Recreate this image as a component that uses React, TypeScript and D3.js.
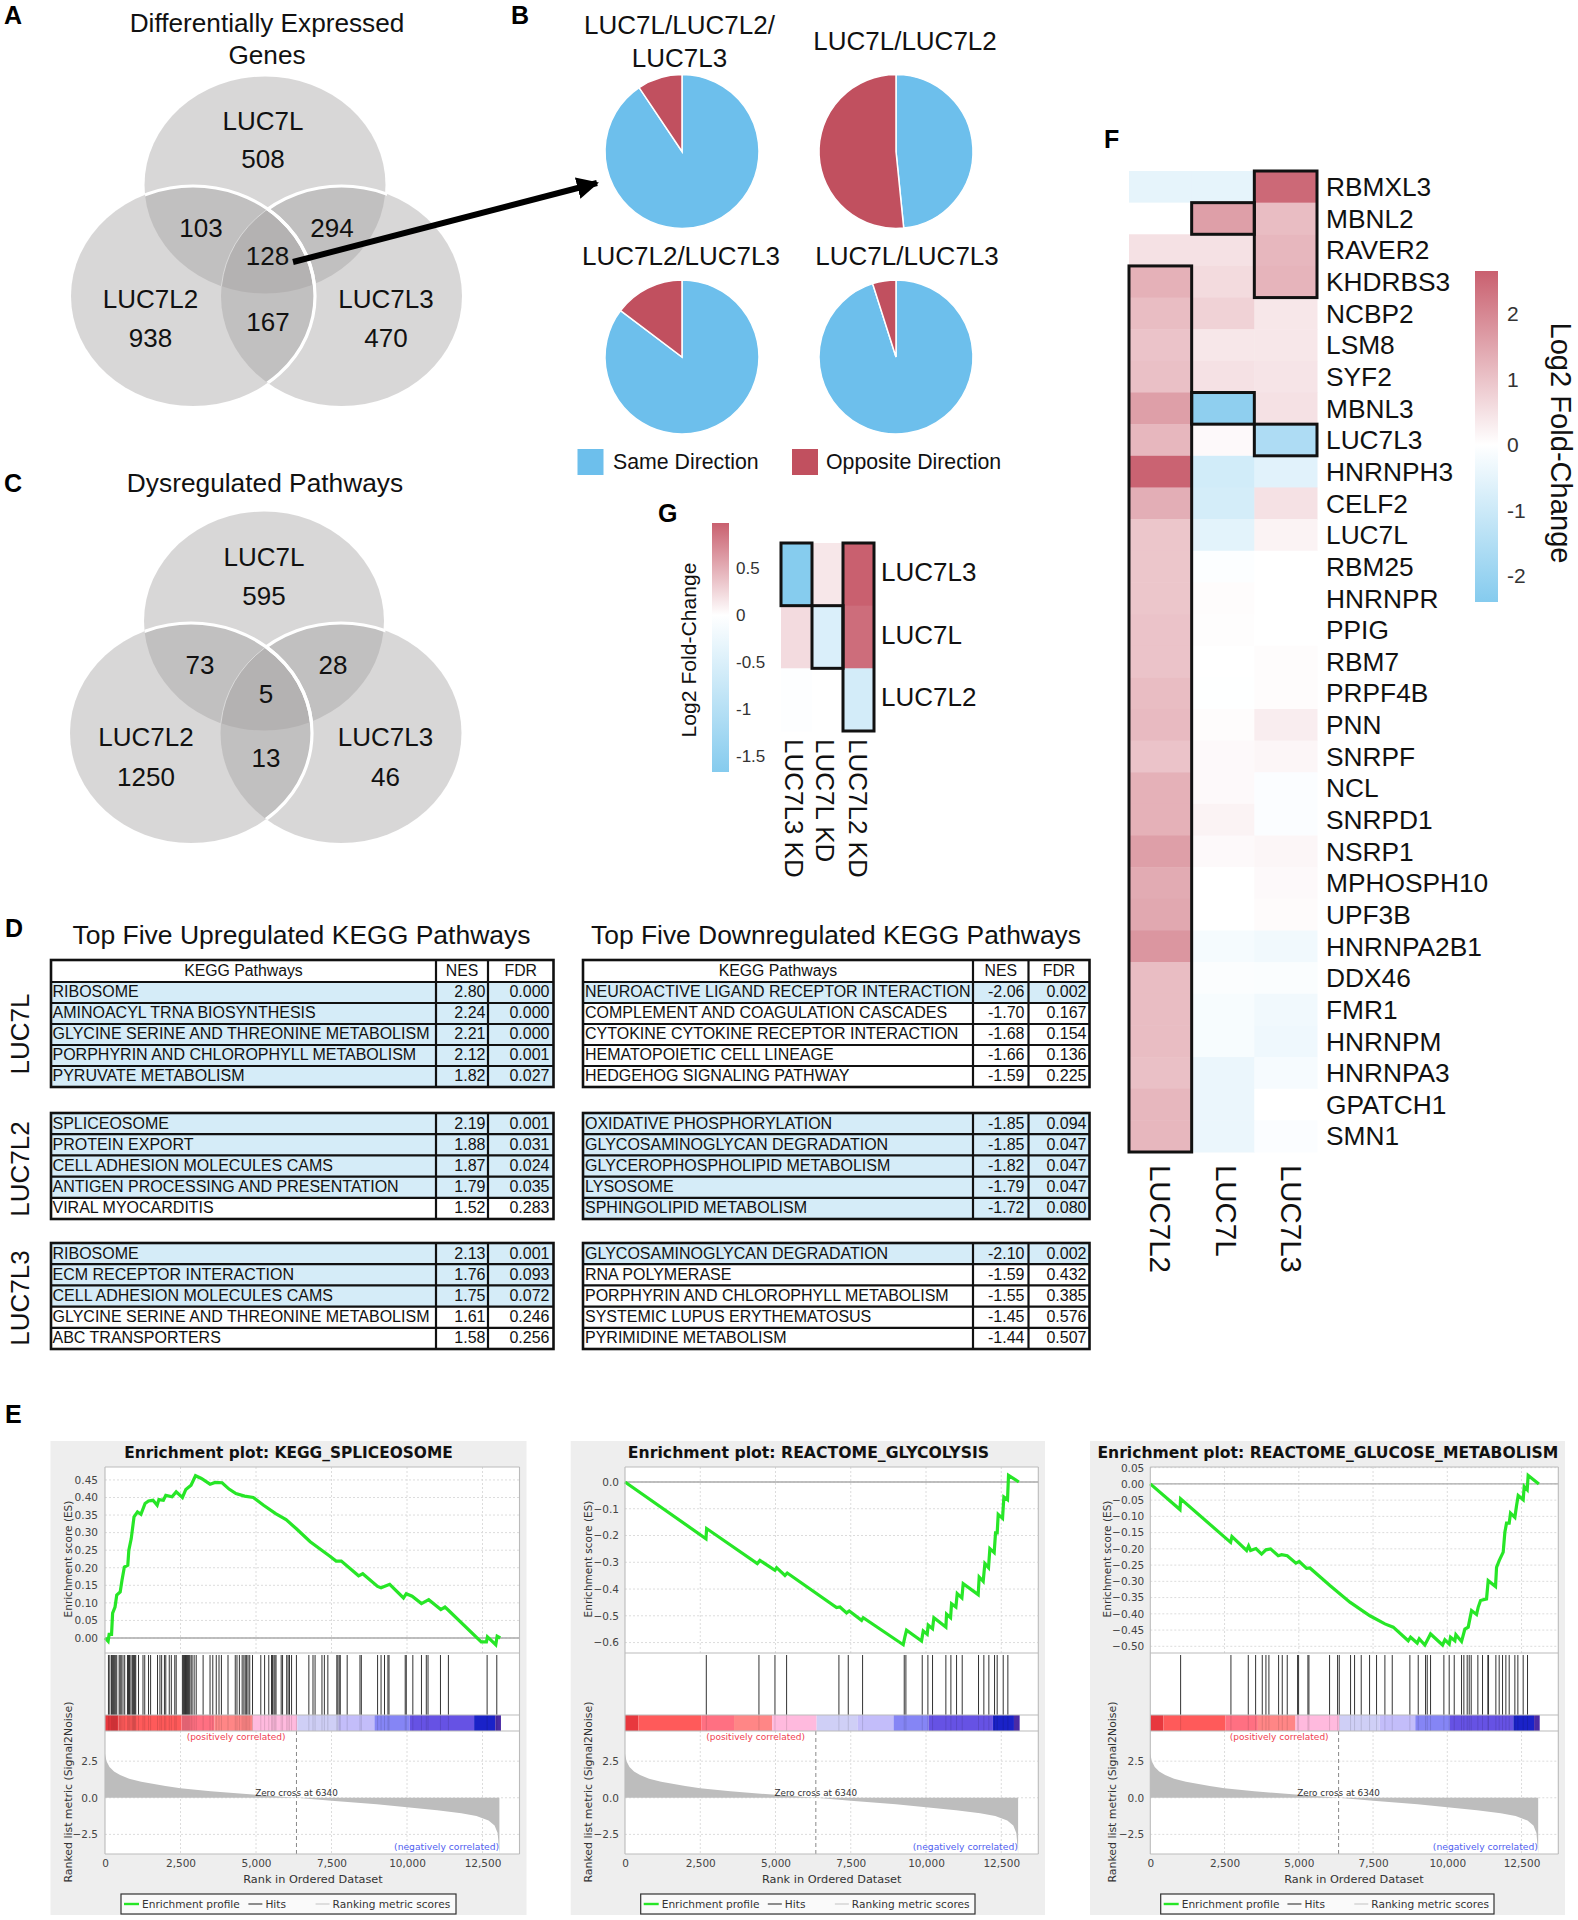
import { useEffect, useRef } from "react";
import * as d3 from "d3";

type Sel = d3.Selection<any, unknown, null, undefined>;

const SANS = "'Liberation Sans', Arial, sans-serif";
const JAVA = "'DejaVu Sans', sans-serif";
const BLUE = "#6dbfec";
const RED = "#c1505f";

// ---- venn counts
const vennANames = ["LUC7L", "LUC7L2", "LUC7L3"];
const vennACounts = ["508", "938", "470", "103", "294", "167", "128"];
const vennCCounts = ["595", "1250", "46", "73", "28", "13", "5"];

// ---- pies: [same, opposite] in percent
const pieTitles = [["LUC7L/LUC7L2/", "LUC7L3"], ["LUC7L/LUC7L2"], ["LUC7L2/LUC7L3"], ["LUC7L/LUC7L3"]];
const pieSame = [90.6, 48.4, 85.3, 95.1];
const pieOpposite = [9.4, 51.6, 14.7, 4.9];

// ---- KEGG tables
const upNames = [
  ["RIBOSOME", "AMINOACYL TRNA BIOSYNTHESIS", "GLYCINE SERINE AND THREONINE METABOLISM", "PORPHYRIN AND CHLOROPHYLL METABOLISM", "PYRUVATE METABOLISM"],
  ["SPLICEOSOME", "PROTEIN EXPORT", "CELL ADHESION MOLECULES CAMS", "ANTIGEN PROCESSING AND PRESENTATION", "VIRAL MYOCARDITIS"],
  ["RIBOSOME", "ECM RECEPTOR INTERACTION", "CELL ADHESION MOLECULES CAMS", "GLYCINE SERINE AND THREONINE METABOLISM", "ABC TRANSPORTERS"],
];
const upNes = [[2.8, 2.24, 2.21, 2.12, 1.82], [2.19, 1.88, 1.87, 1.79, 1.52], [2.13, 1.76, 1.75, 1.61, 1.58]];
const upFdr = [[0, 0, 0, 0.001, 0.027], [0.001, 0.031, 0.024, 0.035, 0.283], [0.001, 0.093, 0.072, 0.246, 0.256]];
const downNames = [
  ["NEUROACTIVE LIGAND RECEPTOR INTERACTION", "COMPLEMENT AND COAGULATION CASCADES", "CYTOKINE CYTOKINE RECEPTOR INTERACTION", "HEMATOPOIETIC CELL LINEAGE", "HEDGEHOG SIGNALING PATHWAY"],
  ["OXIDATIVE PHOSPHORYLATION", "GLYCOSAMINOGLYCAN DEGRADATION", "GLYCEROPHOSPHOLIPID METABOLISM", "LYSOSOME", "SPHINGOLIPID METABOLISM"],
  ["GLYCOSAMINOGLYCAN DEGRADATION", "RNA POLYMERASE", "PORPHYRIN AND CHLOROPHYLL METABOLISM", "SYSTEMIC LUPUS ERYTHEMATOSUS", "PYRIMIDINE METABOLISM"],
];
const downNes = [[-2.06, -1.7, -1.68, -1.66, -1.59], [-1.85, -1.85, -1.82, -1.79, -1.72], [-2.1, -1.59, -1.55, -1.45, -1.44]];
const downFdr = [[0.002, 0.167, 0.154, 0.136, 0.225], [0.094, 0.047, 0.047, 0.047, 0.08], [0.002, 0.432, 0.385, 0.576, 0.507]];
const tableGroups = ["LUC7L", "LUC7L2", "LUC7L3"];

// ---- heatmap F
const genes = ["RBMXL3", "MBNL2", "RAVER2", "KHDRBS3", "NCBP2", "LSM8", "SYF2", "MBNL3", "LUC7L3", "HNRNPH3", "CELF2", "LUC7L", "RBM25", "HNRNPR", "PPIG", "RBM7", "PRPF4B", "PNN", "SNRPF", "NCL", "SNRPD1", "NSRP1", "MPHOSPH10", "UPF3B", "HNRNPA2B1", "DDX46", "FMR1", "HNRNPM", "HNRNPA3", "GPATCH1", "SMN1"];
const fCols = ["LUC7L2", "LUC7L", "LUC7L3"];
const fL2 = [-0.5, 0, 0.5, 1.3, 1.1, 1, 1.05, 1.6, 1.2, 2.6, 1.35, 0.95, 0.95, 0.95, 1, 1, 1.1, 1.15, 1, 1.3, 1.3, 1.6, 1.4, 1.45, 1.75, 1.1, 1.1, 1.1, 1.05, 1.2, 1.2];
const fL = [-0.5, 1.6, 0.5, 0.6, 0.75, 0.4, 0.5, -2.2, 0.1, -0.9, -0.85, -0.55, -0.05, 0.05, 0.03, 0, -0.02, 0.05, 0.1, 0.1, 0.2, 0.1, 0, 0, -0.2, -0.08, -0.15, -0.15, -0.4, -0.4, -0.4];
const fL3 = [2.5, 1.1, 1.2, 1.25, 0.4, 0.4, 0.45, 0.5, -1.6, -0.6, 0.5, 0.2, 0, 0, 0, 0.05, 0.05, 0.3, 0.15, -0.07, -0.07, 0.15, 0.1, 0.07, -0.28, -0.1, -0.28, -0.32, -0.17, 0, -0.07];
// [column, first row, last row]
const fBoxes = [[2, 0, 3], [1, 1, 1], [0, 3, 30], [1, 7, 7], [2, 8, 8]];
const fTicks = [2, 1, 0, -1, -2];

// ---- heatmap G
const gRows = ["LUC7L3", "LUC7L", "LUC7L2"];
const gCols = ["LUC7L3 KD", "LUC7L KD", "LUC7L2 KD"];
const gL3 = [-1.65, 0.15, 0.98];
const gL = [0.22, -0.5, 0.9];
const gL2 = [-0.03, 0, -0.6];
const gBoxes = [[0, 0, 0], [1, 1, 1], [2, 0, 2]];
const gTicks = [0.5, 0, -0.5, -1, -1.5];

// ---- GSEA
const rankTicks = [0, 2500, 5000, 7500, 10000, 12500];
const metricRank = [0, 50, 150, 300, 500, 800, 1200, 2000, 2500, 3500, 5000, 6340, 7500, 9000, 10000, 11000, 11800, 12300, 12700, 12900, 13000, 13040, 13060];
const metricValue = [3, 2.5, 2.1, 1.8, 1.55, 1.3, 1.1, 0.8, 0.65, 0.45, 0.2, 0, -0.2, -0.45, -0.65, -0.85, -1.05, -1.25, -1.55, -1.9, -2.4, -3.3, -3.8];
const bandEdges = [0, 444, 2533, 3622, 4889, 6367, 7722, 8922, 10089, 12222, 12922, 13111];
const bandColors = ["#e8383e", "#ff5a5a", "#ff7082", "#ff8686", "#ffbade", "#cfcff6", "#c3bdfa", "#8585f5", "#6652e4", "#1a22c8", "#4a2aa5"];

const es1Rank = [0, 103, 137, 217, 252, 332, 389, 503, 561, 641, 755, 789, 869, 961, 1075, 1190, 1327, 1441, 1590, 1727, 1785, 1933, 2013, 2219, 2357, 2563, 2677, 2849, 2997, 3192, 3478, 3649, 3878, 4107, 4336, 4622, 4908, 5251, 5651, 5995, 6338, 6795, 7425, 7653, 7825, 8397, 8534, 9026, 9141, 9427, 9884, 9976, 10170, 10479, 10719, 11120, 11257, 11371, 12458, 12630, 12664, 12939, 12985, 13088];
const es1Score = [0, -0.0095, 0.0104, 0.0104, 0.071, 0.088, 0.122, 0.131, 0.164, 0.202, 0.207, 0.25, 0.283, 0.345, 0.359, 0.352, 0.383, 0.39, 0.392, 0.378, 0.394, 0.392, 0.406, 0.402, 0.416, 0.4, 0.423, 0.435, 0.462, 0.454, 0.438, 0.443, 0.442, 0.424, 0.411, 0.404, 0.4, 0.378, 0.354, 0.337, 0.311, 0.274, 0.234, 0.219, 0.219, 0.177, 0.183, 0.147, 0.143, 0.153, 0.114, 0.126, 0.119, 0.098, 0.109, 0.081, 0.088, 0.079, -0.011, -0.011, 0.003, -0.019, 0.005, 0];
const hits1 = [114, 160, 217, 252, 286, 320, 355, 389, 469, 503, 538, 595, 652, 744, 778, 812, 858, 904, 927, 950, 972, 995, 1018, 1110, 1258, 1316, 1441, 1510, 1739, 1819, 1876, 1968, 2013, 2128, 2196, 2311, 2357, 2563, 2597, 2631, 2666, 2700, 2734, 2768, 2803, 2849, 2883, 2952, 3020, 3249, 3478, 3569, 3684, 3775, 3855, 4073, 4313, 4370, 4450, 4542, 4599, 4645, 4690, 4736, 4793, 4885, 5159, 5285, 5423, 5514, 5548, 5594, 5628, 5663, 5834, 5880, 6017, 6063, 6109, 6178, 6338, 6750, 6887, 6956, 7184, 7264, 7379, 7676, 7711, 7756, 7791, 8019, 8443, 8488, 9026, 9141, 9255, 9369, 9404, 9941, 9976, 10193, 10479, 10639, 10696, 11108, 11371, 12653, 12973];
const es1Ticks = [0.45, 0.4, 0.35, 0.3, 0.25, 0.2, 0.15, 0.1, 0.05, 0];

const es2Rank = [0, 2690, 2712, 4395, 4483, 4982, 5037, 5314, 5391, 7029, 7140, 7362, 7450, 7860, 7915, 9243, 9299, 9354, 9852, 9908, 10040, 10074, 10217, 10262, 10660, 10683, 10816, 10849, 10993, 11037, 11192, 11236, 11734, 11767, 11900, 11956, 12077, 12122, 12265, 12310, 12365, 12399, 12543, 12587, 12708, 12742, 13085];
const es2Score = [0, -0.212, -0.174, -0.305, -0.293, -0.33, -0.32, -0.349, -0.34, -0.469, -0.467, -0.489, -0.482, -0.517, -0.507, -0.608, -0.579, -0.554, -0.594, -0.557, -0.569, -0.535, -0.548, -0.507, -0.542, -0.494, -0.507, -0.455, -0.467, -0.417, -0.433, -0.38, -0.421, -0.355, -0.371, -0.305, -0.32, -0.249, -0.264, -0.19, -0.19, -0.121, -0.136, -0.056, -0.066, 0.025, 0];
const hits2 = [2701, 4450, 4982, 5369, 7107, 7417, 7893, 9277, 9332, 9875, 10063, 10217, 10660, 10827, 11015, 11203, 11745, 11922, 12088, 12277, 12365, 12565, 12720];
const es2Ticks = [0, -0.1, -0.2, -0.3, -0.4, -0.5, -0.6];

const es3Rank = [0, 999, 1021, 2704, 2749, 3243, 3310, 3377, 3557, 3747, 3893, 4050, 4308, 4421, 4611, 4903, 5015, 5262, 5374, 6048, 6721, 7394, 7899, 8179, 8684, 8763, 8987, 9055, 9245, 9436, 9840, 9919, 10065, 10109, 10255, 10289, 10480, 10592, 10704, 10816, 10984, 11040, 11119, 11321, 11377, 11624, 11658, 11747, 11882, 11938, 11994, 12084, 12129, 12275, 12331, 12387, 12555, 12589, 12690, 12723, 13083];
const es3Score = [0, -0.079, -0.046, -0.18, -0.162, -0.205, -0.191, -0.205, -0.199, -0.216, -0.203, -0.2, -0.221, -0.218, -0.221, -0.244, -0.239, -0.26, -0.259, -0.313, -0.364, -0.406, -0.431, -0.441, -0.483, -0.472, -0.49, -0.477, -0.496, -0.462, -0.496, -0.48, -0.493, -0.472, -0.483, -0.464, -0.485, -0.447, -0.441, -0.39, -0.402, -0.38, -0.359, -0.354, -0.298, -0.316, -0.257, -0.236, -0.21, -0.149, -0.121, -0.121, -0.09, -0.103, -0.067, -0.036, -0.049, -0.008, -0.018, 0.026, 0];
const hits3 = [1021, 2715, 3299, 3546, 3770, 3893, 3994, 4320, 4443, 4611, 4959, 4993, 5307, 5341, 6036, 6306, 6362, 6743, 6878, 7102, 7383, 7618, 7899, 8146, 8740, 9021, 9268, 9324, 9436, 9885, 10064, 10233, 10479, 10558, 10670, 10738, 10805, 11029, 11186, 11366, 11388, 11635, 11747, 11860, 11972, 12084, 12275, 12376, 12555, 12701];
const es3Ticks = [0.05, 0, -0.05, -0.1, -0.15, -0.2, -0.25, -0.3, -0.35, -0.4, -0.45, -0.5];

function txt(g: Sel, x: number, y: number, s: string, size: number, opt: any = {}) {
  const t = g.append("text")
    .attr("x", x).attr("y", y)
    .attr("font-family", opt.font || SANS)
    .attr("font-size", size)
    .attr("font-weight", opt.weight || "normal")
    .attr("text-anchor", opt.anchor || "start")
    .attr("fill", opt.fill || "#111")
    .text(s);
  if (opt.rotate) t.attr("transform", `rotate(${opt.rotate},${x},${y})`);
  return t;
}

let clipId = 0;

function drawVenn(svg: Sel, cx: number[], cy: number[], rx: number[], ry: number[], names: string[], counts: string[], pos: number[][]) {
  const ids = [0, 1, 2].map(() => `venn${clipId++}`);
  const defs = svg.append("defs");
  [0, 1, 2].forEach((i) => {
    defs.append("clipPath").attr("id", ids[i])
      .append("ellipse").attr("cx", cx[i]).attr("cy", cy[i]).attr("rx", rx[i]).attr("ry", ry[i]);
  });
  const maskId = `vennmask${clipId++}`;
  const mask = defs.append("mask").attr("id", maskId);
  mask.append("ellipse").attr("cx", cx[0]).attr("cy", cy[0]).attr("rx", rx[0] + 2).attr("ry", ry[0] + 2).attr("fill", "#fff");
  mask.append("ellipse").attr("cx", cx[1]).attr("cy", cy[1]).attr("rx", rx[1]).attr("ry", ry[1]).attr("fill", "#000");

  [0, 1, 2].forEach((i) => {
    svg.append("ellipse").attr("cx", cx[i]).attr("cy", cy[i]).attr("rx", rx[i]).attr("ry", ry[i])
      .attr("fill", "#a2a09f").attr("fill-opacity", 0.42);
  });
  // white outlines only show where the circles overlap
  const ring = (g: Sel, i: number, w: number) =>
    g.append("ellipse").attr("cx", cx[i]).attr("cy", cy[i]).attr("rx", rx[i]).attr("ry", ry[i])
      .attr("fill", "none").attr("stroke", "#fff").attr("stroke-width", w);
  ring(svg.append("g").attr("clip-path", `url(#${ids[0]})`), 1, 3.2);
  ring(svg.append("g").attr("clip-path", `url(#${ids[2]})`), 1, 3.2);
  ring(svg.append("g").attr("mask", `url(#${maskId})`), 2, 3.2);
  ring(svg.append("g").attr("clip-path", `url(#${ids[1]})`).append("g").attr("clip-path", `url(#${ids[0]})`), 2, 1).attr("stroke-opacity", 0.45);

  const labels = [names[0], counts[0], names[1], counts[1], names[2], counts[2], counts[3], counts[4], counts[5], counts[6]];
  labels.forEach((s, i) => txt(svg, pos[i][0], pos[i][1], s, 26, { anchor: "middle" }));
}

function drawPies(svg: Sel) {
  const cxs = [682, 896, 682, 896];
  const cys = [151.5, 151.5, 357, 357];
  const pie = d3.pie<number>().sort(null).value((d) => d);
  const arc = d3.arc<d3.PieArcDatum<number>>().innerRadius(0).outerRadius(77);
  pieSame.forEach((same, i) => {
    const g = svg.append("g").attr("transform", `translate(${cxs[i]},${cys[i]})`);
    g.selectAll("path")
      .data(pie([same, pieOpposite[i]]))
      .join("path")
      .attr("d", arc)
      .attr("fill", (_, j) => (j === 0 ? BLUE : RED))
      .attr("stroke", "#fff").attr("stroke-width", 1.5);
  });
  const titleY = [[34, 67], [50], [265], [265]];
  const titleX = [679.5, 905, 681, 907];
  pieTitles.forEach((lines, i) => {
    lines.forEach((s, j) => txt(svg, titleX[i], titleY[i][j], s, 26, { anchor: "middle" }));
  });
  svg.append("rect").attr("x", 577.5).attr("y", 449).attr("width", 26).attr("height", 26).attr("fill", BLUE);
  txt(svg, 613, 469, "Same Direction", 21.3);
  svg.append("rect").attr("x", 792).attr("y", 449).attr("width", 26).attr("height", 26).attr("fill", RED);
  txt(svg, 826, 469, "Opposite Direction", 21.3);

  // arrow from the triple overlap to the first pie
  const defs = svg.append("defs");
  defs.append("marker").attr("id", "arrowHead").attr("markerUnits", "userSpaceOnUse")
    .attr("markerWidth", 24).attr("markerHeight", 24).attr("refX", 20).attr("refY", 12)
    .attr("orient", "auto")
    .append("path").attr("d", "M0,1 L22,12 L0,23 Z").attr("fill", "#000");
  svg.append("line").attr("x1", 293).attr("y1", 262).attr("x2", 597).attr("y2", 183)
    .attr("stroke", "#000").attr("stroke-width", 6).attr("marker-end", "url(#arrowHead)");
}

function drawTable(svg: Sel, xs: number[], y0: number, y1: number, textX: number[], names: string[], nes: number[], fdr: number[], header: boolean) {
  const HEAD_H = 22;
  const bodyTop = header ? y0 + HEAD_H : y0;
  const y = d3.scaleBand<number>().domain(d3.range(names.length)).range([bodyTop, y1]);
  const g = svg.append("g");
  g.selectAll("rect.row").data(names).join("rect").attr("class", "row")
    .attr("x", xs[0]).attr("y", (_, i) => y(i)!)
    .attr("width", xs[3] - xs[0]).attr("height", y.bandwidth())
    .attr("fill", (_, i) => (fdr[i] < 0.1 ? "#d5ecf8" : "#fff"));
  const FS = 16;
  names.forEach((n, i) => {
    const b = y(i)! + y.bandwidth() / 2 + FS * 0.31;
    txt(g, textX[0], b, n, FS);
    txt(g, textX[1], b, nes[i].toFixed(2), FS, { anchor: "end" });
    txt(g, textX[2], b, fdr[i].toFixed(3), FS, { anchor: "end" });
  });
  if (header) {
    const b = y0 + HEAD_H / 2 + 5;
    txt(g, (xs[0] + xs[1]) / 2, b, "KEGG Pathways", 15.8, { anchor: "middle" });
    txt(g, (xs[1] + xs[2]) / 2, b, "NES", 15.8, { anchor: "middle" });
    txt(g, (xs[2] + xs[3]) / 2, b, "FDR", 15.8, { anchor: "middle" });
  }
  const rules = header ? [bodyTop, ...d3.range(1, names.length).map((i) => y(i)!)] : d3.range(1, names.length).map((i) => y(i)!);
  g.selectAll("line.h").data(rules).join("line").attr("class", "h")
    .attr("x1", xs[0]).attr("x2", xs[3]).attr("y1", (d) => d).attr("y2", (d) => d)
    .attr("stroke", "#111").attr("stroke-width", 2.2);
  g.selectAll("line.v").data([xs[1], xs[2]]).join("line").attr("class", "v")
    .attr("x1", (d) => d).attr("x2", (d) => d).attr("y1", y0).attr("y2", y1)
    .attr("stroke", "#111").attr("stroke-width", 2.2);
  g.append("rect").attr("x", xs[0]).attr("y", y0).attr("width", xs[3] - xs[0]).attr("height", y1 - y0)
    .attr("fill", "none").attr("stroke", "#111").attr("stroke-width", 2.6);
}

function drawTables(svg: Sel) {
  const tops = [960, 1113, 1243];
  const bottoms = [1087, 1219, 1349];
  tableGroups.forEach((name, i) => {
    drawTable(svg, [51, 436, 488, 553.5], tops[i], bottoms[i], [52.5, 485.5, 549.5], upNames[i], upNes[i], upFdr[i], i === 0);
    drawTable(svg, [583, 973, 1028.5, 1089.5], tops[i], bottoms[i], [585, 1024.5, 1086.5], downNames[i], downNes[i], downFdr[i], i === 0);
    txt(svg, 28.5, [1034, 1169, 1298][i], name, 26, { anchor: "middle", rotate: -90 });
  });
  txt(svg, 301.5, 944, "Top Five Upregulated KEGG Pathways", 26.5, { anchor: "middle" });
  txt(svg, 836, 944, "Top Five Downregulated KEGG Pathways", 26.4, { anchor: "middle" });
}

function colorBar(svg: Sel, id: string, color: d3.ScaleLinear<string, string>, x: number, w: number, yScale: d3.ScaleLinear<number, number>, ticks: number[], tickX: number, size: number) {
  const [top, bottom] = yScale.domain();
  const zero = (top - 0) / (top - bottom);
  const grad = svg.append("defs").append("linearGradient").attr("id", id).attr("x1", 0).attr("x2", 0).attr("y1", 0).attr("y2", 1);
  [[0, top], [zero, 0], [1, bottom]].forEach(([o, v]) => grad.append("stop").attr("offset", o).attr("stop-color", color(v)));
  svg.append("rect").attr("x", x).attr("y", yScale(top)).attr("width", w).attr("height", yScale(bottom) - yScale(top)).attr("fill", `url(#${id})`);
  ticks.forEach((t) => txt(svg, tickX, yScale(t) + size * 0.36, String(t), size, { fill: "#333" }));
}

function heatCells(svg: Sel, x: d3.ScaleBand<number>, y: d3.ScaleBand<number>, rows: number[][], color: (v: number) => string, boxes: number[][]) {
  rows.forEach((vals, r) => {
    svg.append("g").selectAll("rect").data(vals).join("rect")
      .attr("x", (_, c) => x(c)!).attr("y", y(r)!)
      .attr("width", x.bandwidth() + 0.5).attr("height", y.bandwidth() + 0.5)
      .attr("fill", (d) => color(d));
  });
  boxes.forEach(([c, a, b]) => {
    svg.append("rect")
      .attr("x", x(c)!).attr("y", y(a)!)
      .attr("width", x.bandwidth()).attr("height", y(b)! + y.bandwidth() - y(a)!)
      .attr("fill", "none").attr("stroke", "#111").attr("stroke-width", 3);
  });
}

function drawHeatF(svg: Sel) {
  const x = d3.scaleBand<number>().domain(d3.range(fCols.length)).range([1129, 1317]);
  const y = d3.scaleBand<number>().domain(d3.range(genes.length)).range([171, 1152]);
  const color = d3.scaleLinear<string>().domain([-2.4, 0, 2.65]).range(["#85cbee", "#ffffff", "#c9606f"]);
  const rows = genes.map((_, i) => [fL2[i], fL[i], fL3[i]]);
  heatCells(svg, x, y, rows, color, fBoxes);
  genes.forEach((g, i) => txt(svg, 1326, y(i)! + y.bandwidth() / 2 + 9.3, g, 26.3));
  const labelX = [1149.5, 1216, 1281];
  fCols.forEach((c, i) => txt(svg, labelX[i], 1165, c, 29.4, { rotate: 90 }));
  const barY = d3.scaleLinear().domain([2.65, -2.4]).range([271, 602]);
  colorBar(svg, "barF", color, 1475, 23, barY, fTicks, 1507, 21);
  txt(svg, 1551, 443, "Log2 Fold-Change", 29.1, { anchor: "middle", rotate: 90 });
}

function drawHeatG(svg: Sel) {
  const x = d3.scaleBand<number>().domain(d3.range(gCols.length)).range([781, 874]);
  const y = d3.scaleBand<number>().domain(d3.range(gRows.length)).range([543, 731]);
  const color = d3.scaleLinear<string>().domain([-1.67, 0, 0.98]).range(["#85cbee", "#ffffff", "#c9606f"]);
  heatCells(svg, x, y, [gL3, gL, gL2], color, gBoxes);
  gRows.forEach((g, i) => txt(svg, 881, y(i)! + y.bandwidth() / 2 + 6.5, g, 26));
  const labelX = [785, 816, 849];
  gCols.forEach((c, i) => txt(svg, labelX[i], 739, c, 26, { rotate: 90 }));
  const barY = d3.scaleLinear().domain([0.98, -1.67]).range([523, 772]);
  colorBar(svg, "barG", color, 712, 17, barY, gTicks, 736, 17);
  txt(svg, 696, 650, "Log2 Fold-Change", 21.1, { anchor: "middle", rotate: -90 });
}

interface GseaLayout {
  bg: number[]; plot: number[]; pxPerRank: number; esTop: number; esBottom: number;
  title: number[]; esLabelX: number; rankLabelX: number; axisLabelX: number; pad: number;
  legend: number[]; fmt: string;
}

function drawGsea(svg: Sel, name: string, rank: number[], score: number[], hits: number[], esTicks: number[], L: GseaLayout) {
  const g = svg.append("g").attr("font-family", JAVA);
  const [x0, x1] = L.plot;
  const [Y0, Y1, Y2, Y3, Y4] = [1467, 1653, 1715, 1731, 1854];
  g.append("rect").attr("x", L.bg[0]).attr("y", 1441).attr("width", L.bg[1] - L.bg[0]).attr("height", 474).attr("fill", "#eeeeee");
  g.append("rect").attr("x", x0).attr("y", Y0).attr("width", x1 - x0).attr("height", Y4 - Y0).attr("fill", "#fff");

  const x = d3.scaleLinear().domain([0, (x1 - x0) / L.pxPerRank]).range([x0, x1]);
  const es = d3.scaleLinear().domain([L.esTop, L.esBottom]).range([Y0, Y1]);
  const metric = d3.scaleLinear().domain([4.56, -3.84]).range([Y3, Y4]);
  const grid = (x1a: number, x2a: number, y1a: number, y2a: number) =>
    g.append("line").attr("x1", x1a).attr("x2", x2a).attr("y1", y1a).attr("y2", y2a)
      .attr("stroke", "#dcdcdc").attr("stroke-dasharray", "2,2");

  rankTicks.slice(1).forEach((t) => { grid(x(t), x(t), Y0, Y1); grid(x(t), x(t), Y3, Y4); });
  esTicks.forEach((t) => grid(x0, x1, es(t), es(t)));
  [2.5, 0, -2.5].forEach((t) => grid(x0, x1, metric(t), metric(t)));

  // zero line + running enrichment score
  g.append("line").attr("x1", x0).attr("x2", x1).attr("y1", es(0)).attr("y2", es(0)).attr("stroke", "#aaa").attr("stroke-width", 1.4);
  const line = d3.line<number>().x((d) => x(d)).y((_, i) => es(score[i]));
  g.append("path").attr("d", line(rank)).attr("fill", "none").attr("stroke", "#27e627").attr("stroke-width", 3.2);

  // hits
  g.append("g").selectAll("line").data(hits).join("line")
    .attr("x1", (d) => x(d)).attr("x2", (d) => x(d)).attr("y1", 1655).attr("y2", Y2)
    .attr("stroke", "#333").attr("stroke-width", 1);

  // rank colour band
  g.append("g").selectAll("rect").data(bandColors).join("rect")
    .attr("x", (_, i) => x(bandEdges[i])).attr("y", Y2)
    .attr("width", (_, i) => x(bandEdges[i + 1]) - x(bandEdges[i])).attr("height", 16)
    .attr("fill", (d) => d);
  g.append("g").selectAll("line").data(hits).join("line")
    .attr("x1", (d) => x(d)).attr("x2", (d) => x(d)).attr("y1", Y2).attr("y2", Y2 + 16)
    .attr("stroke", "#000").attr("stroke-opacity", 0.12).attr("stroke-width", 1);

  // ranked metric
  const area = d3.area<number>().x((d) => x(d)).y0(metric(0)).y1((_, i) => metric(metricValue[i]));
  g.append("path").attr("d", area(metricRank)).attr("fill", "#bdbdbd");

  g.append("line").attr("x1", x(6340)).attr("x2", x(6340)).attr("y1", Y2 + 16).attr("y2", Y4)
    .attr("stroke", "#888").attr("stroke-dasharray", "4,3");

  // frames
  [[Y0, Y0], [Y1, Y1], [Y2, Y2], [Y2 + 16, Y2 + 16], [Y4, Y4]].forEach(([a, b]) =>
    g.append("line").attr("x1", x0).attr("x2", x1).attr("y1", a).attr("y2", b).attr("stroke", "#bbb").attr("stroke-width", 1.1));
  [x0, x1].forEach((v) => g.append("line").attr("x1", v).attr("x2", v).attr("y1", Y0).attr("y2", Y4).attr("stroke", "#bbb").attr("stroke-width", 1.1));

  const FS = 10.5;
  const style = (a: Sel) => {
    a.select(".domain").remove();
    a.selectAll(".tick line").remove();
    a.selectAll("text").attr("font-family", JAVA).attr("font-size", FS).attr("fill", "#444");
  };
  g.append("g").attr("transform", `translate(0,${Y4})`)
    .call(d3.axisBottom(x).tickValues(rankTicks).tickSize(0).tickPadding(6).tickFormat((d) => d3.format(",")(d as number)) as any)
    .call(style as any);
  g.append("g").attr("transform", `translate(${x0},0)`)
    .call(d3.axisLeft(es).tickValues(esTicks).tickSize(0).tickPadding(L.pad).tickFormat((d) => d3.format(L.fmt)(d as number)) as any)
    .call(style as any);
  g.append("g").attr("transform", `translate(${x0},0)`)
    .call(d3.axisLeft(metric).tickValues([2.5, 0, -2.5]).tickSize(0).tickPadding(L.pad).tickFormat((d) => d3.format(".1f")(d as number)) as any)
    .call(style as any);

  txt(g, L.title[0], 1458, `Enrichment plot: ${name}`, L.title[1], { font: JAVA, weight: "bold", anchor: "middle" });
  txt(g, L.esLabelX, 1559, "Enrichment score (ES)", 10.5, { font: JAVA, anchor: "middle", rotate: -90, fill: "#333" });
  txt(g, L.rankLabelX, 1792, "Ranked list metric (Signal2Noise)", 10.9, { font: JAVA, anchor: "middle", rotate: -90, fill: "#333" });
  txt(g, L.axisLabelX, 1883, "Rank in Ordered Dataset", 11.3, { font: JAVA, anchor: "middle", fill: "#333" });
  txt(g, x(4340), 1740, "(positively correlated)", 9, { font: JAVA, anchor: "middle", fill: "#f04050" });
  txt(g, x(6340), 1796, "Zero cross at 6340", 8.8, { font: JAVA, anchor: "middle", fill: "#333" });
  txt(g, x(13050), 1850, "(negatively correlated)", 9.2, { font: JAVA, anchor: "end", fill: "#5060f0" });

  // legend
  const [lx0, lx1] = L.legend;
  g.append("rect").attr("x", lx0).attr("y", 1894).attr("width", lx1 - lx0).attr("height", 20)
    .attr("fill", "#fafafa").attr("stroke", "#333").attr("stroke-width", 1.2);
  const s = (lx1 - lx0) / 334;
  const keys: [number, string, string, number][] = [[3, "Enrichment profile", "#27e627", 2.4], [127, "Hits", "#444", 1.2], [194, "Ranking metric scores", "#ccc", 1.2]];
  keys.forEach(([off, label, col, w]) => {
    const kx = lx0 + off * s;
    const len = off === 3 ? 15 : 14;
    g.append("line").attr("x1", kx).attr("x2", kx + len).attr("y1", 1904).attr("y2", 1904).attr("stroke", col).attr("stroke-width", w);
    txt(g, kx + len + 3, 1908, label, 10.6, { font: JAVA, fill: "#333" });
  });
}

function drawAll(svg: Sel) {
  [["A", 4, 24], ["B", 511, 24], ["C", 4, 492], ["D", 5, 937], ["E", 5, 1423], ["F", 1104, 148], ["G", 658, 522]].forEach(([s, x, y]) =>
    txt(svg, x as number, y as number, s as string, 25, { weight: "bold", fill: "#000" }));

  txt(svg, 267, 32, "Differentially Expressed", 26.2, { anchor: "middle" });
  txt(svg, 267, 64, "Genes", 26.2, { anchor: "middle" });
  drawVenn(svg, [265, 193, 341.5], [185, 296, 296], [120.5, 122, 120.5], [108.5, 110, 110], vennANames, vennACounts,
    [[263, 130], [263, 168], [150.5, 308], [150.5, 347], [386, 308], [386, 347], [201, 237], [332, 237], [268, 331], [267.5, 265]]);

  txt(svg, 265, 492, "Dysregulated Pathways", 26.3, { anchor: "middle" });
  drawVenn(svg, [264, 191, 341], [621, 733, 733], [120, 121, 120.5], [109.5, 110, 110], vennANames, vennCCounts,
    [[264, 566], [264, 605], [146, 746], [146, 786], [385.5, 746], [385.5, 786], [200, 674], [333, 674], [266, 767], [266, 703]]);

  drawPies(svg);
  drawHeatG(svg);
  drawHeatF(svg);
  drawTables(svg);

  drawGsea(svg, "KEGG_SPLICEOSOME", es1Rank, es1Score, hits1, es1Ticks, {
    bg: [50.5, 526.5], plot: [105, 519.5], pxPerRank: 0.0302, esTop: 0.4868, esBottom: -0.0427,
    title: [288.5, 15.4], esLabelX: 71.5, rankLabelX: 72, axisLabelX: 313, pad: 7, legend: [121, 456], fmt: ".2f",
  });
  drawGsea(svg, "REACTOME_GLYCOLYSIS", es2Rank, es2Score, hits2, es2Ticks, {
    bg: [570.7, 1045], plot: [625, 1038.3], pxPerRank: 0.0301, esTop: 0.056, esBottom: -0.639,
    title: [808.5, 15.7], esLabelX: 591.7, rankLabelX: 591.7, axisLabelX: 831.7, pad: 6, legend: [640.7, 975], fmt: ".1f",
  });
  drawGsea(svg, "REACTOME_GLUCOSE_METABOLISM", es3Rank, es3Score, hits3, es3Ticks, {
    bg: [1090, 1565], plot: [1150.3, 1558.3], pxPerRank: 0.0297, esTop: 0.052, esBottom: -0.5206,
    title: [1327.8, 15.6], esLabelX: 1110.7, rankLabelX: 1116, axisLabelX: 1354, pad: 6, legend: [1160.7, 1494], fmt: ".2f",
  });
}

export default function App() {
  const svgRef = useRef<SVGSVGElement>(null);

  useEffect(() => {
    if (!svgRef.current) return;
    document.body.style.margin = "0";
    const svg = d3.select(svgRef.current);
    svg.selectAll("*").remove();
    drawAll(svg as unknown as Sel);
  }, []);

  return <svg ref={svgRef} width={1578} height={1920} style={{ display: "block", background: "#fff" }} />;
}
